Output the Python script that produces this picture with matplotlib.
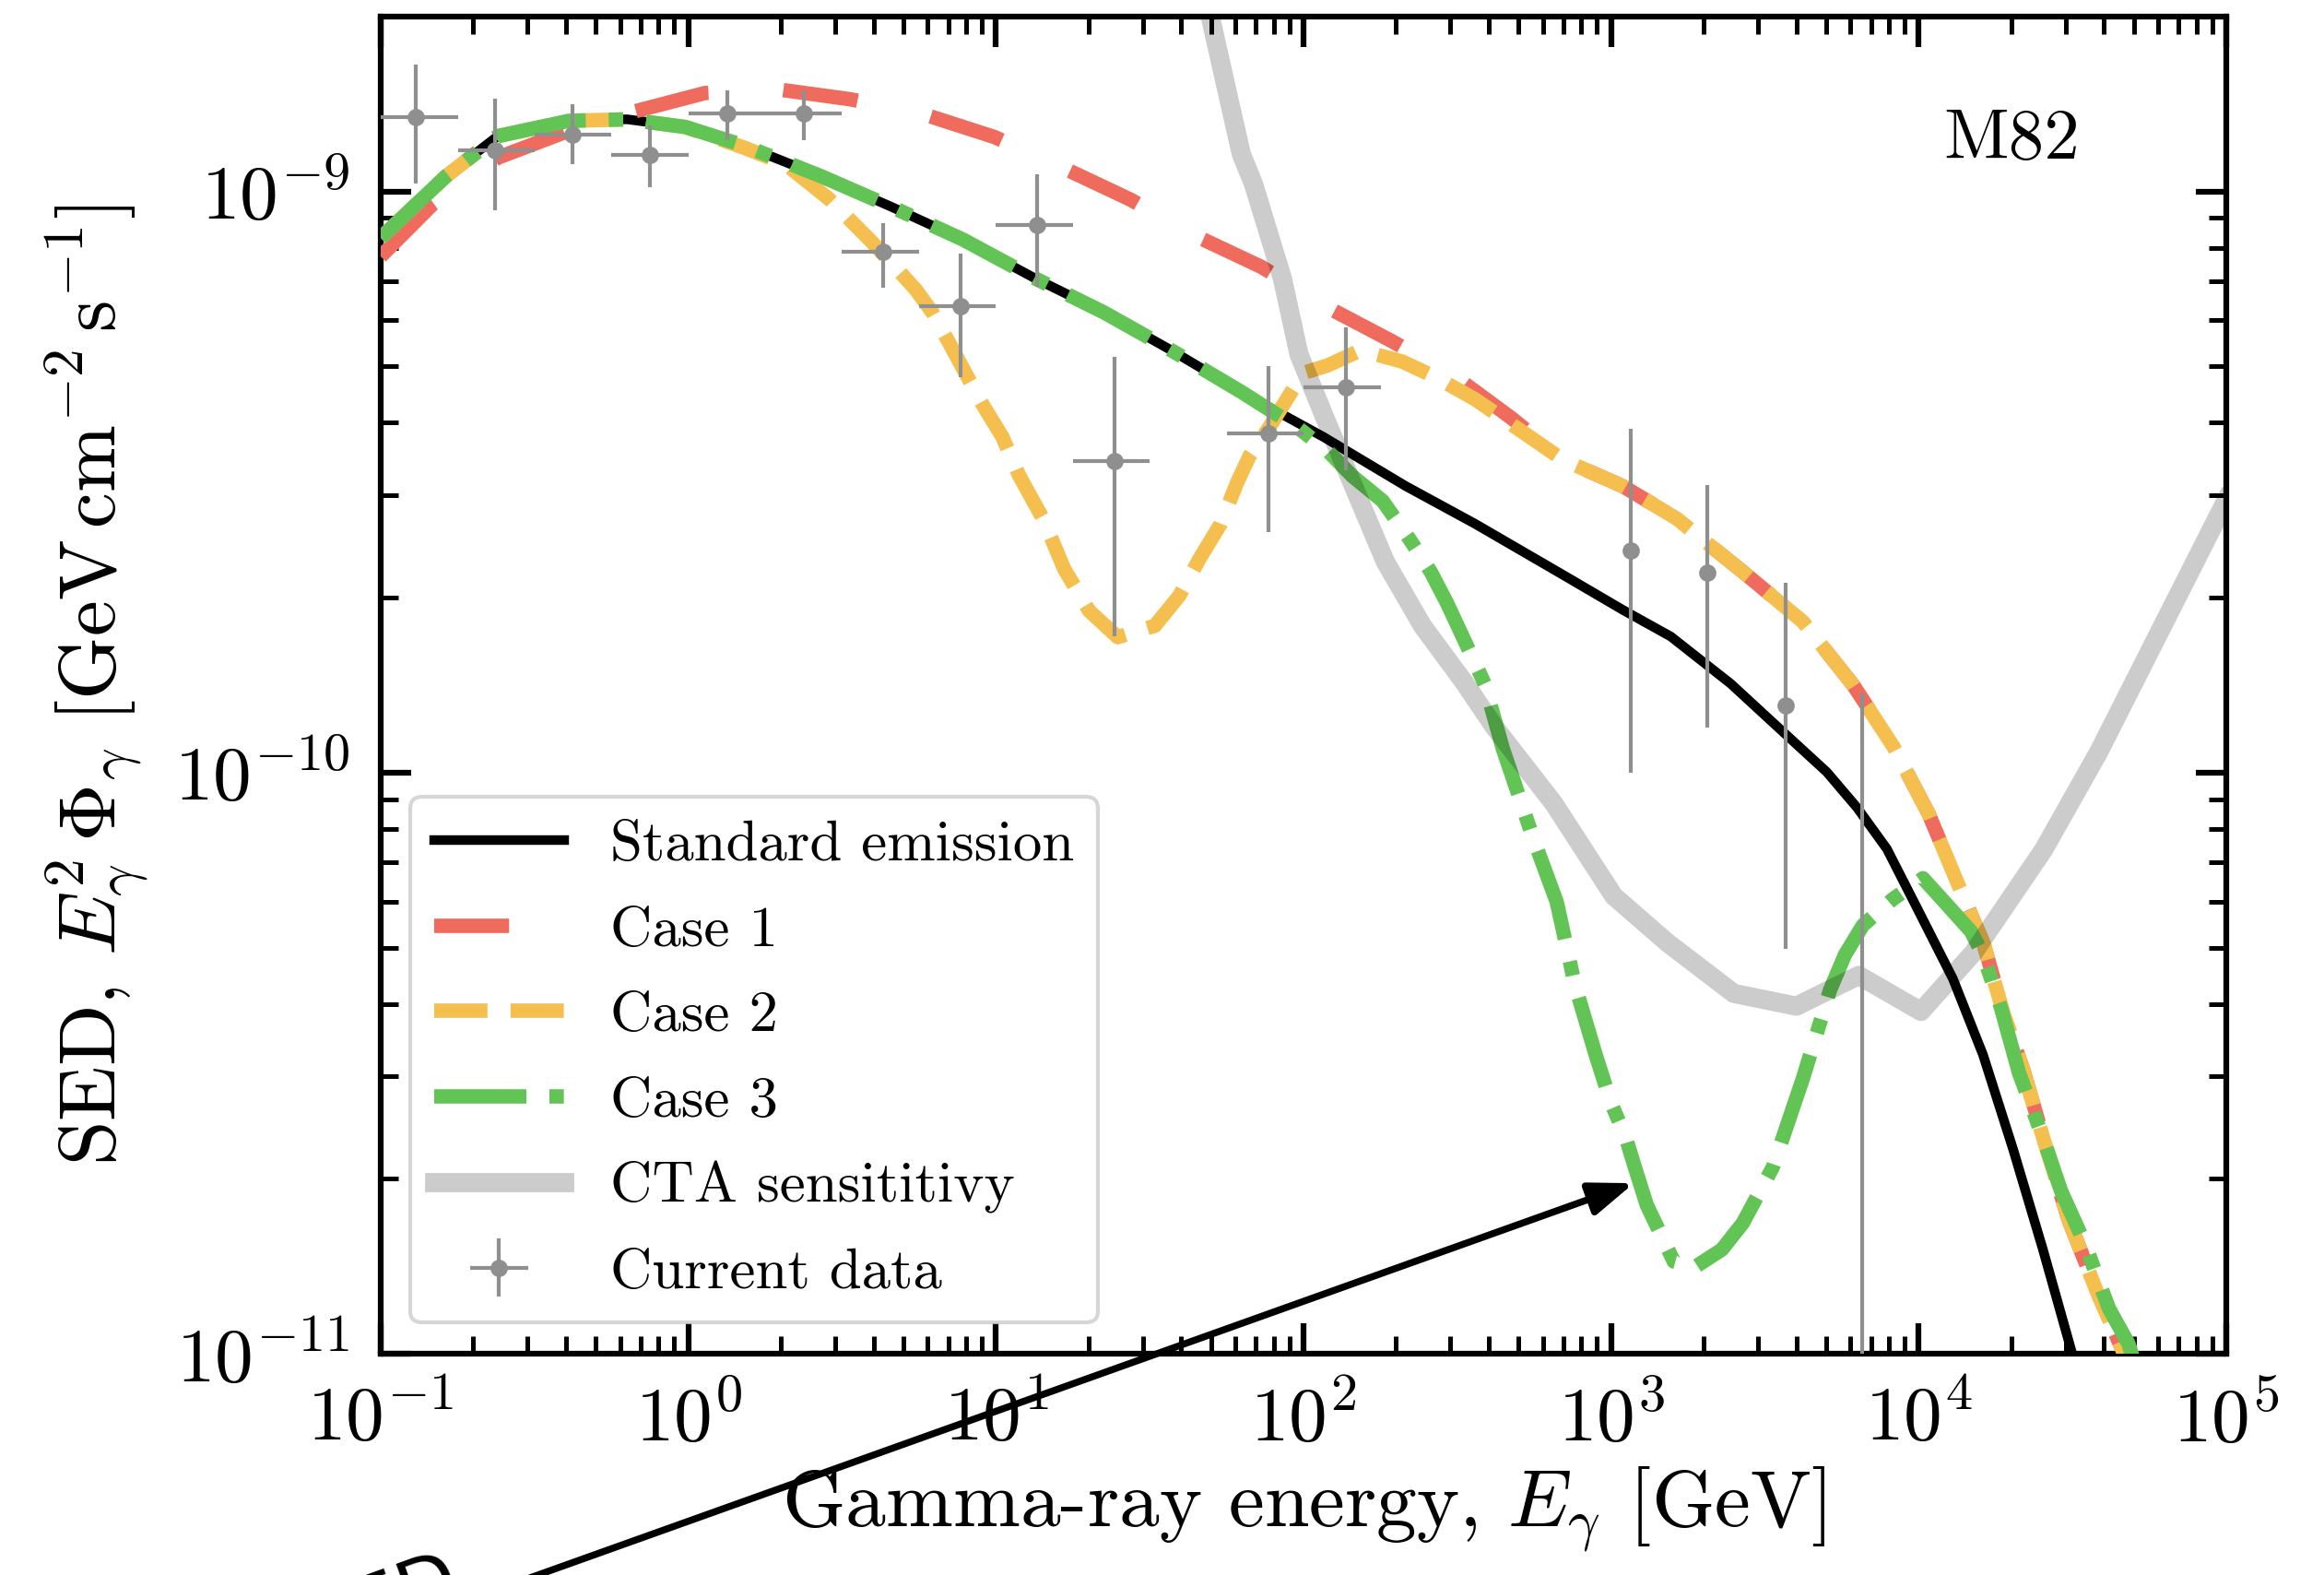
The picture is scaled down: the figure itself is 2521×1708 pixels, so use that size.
import matplotlib
matplotlib.use("Agg")
import matplotlib.pyplot as plt
import matplotlib.ticker as mticker
import numpy as np

plt.rcParams.update({
    "font.family": "serif",
    "font.serif": ["cmr10"],
    "mathtext.fontset": "cm",
    "axes.unicode_minus": False,
    "axes.formatter.use_mathtext": True,
})

# ---------------- data (GeV, GeV cm^-2 s^-1) ----------------
E_std = [0.1, 0.163, 0.240, 0.409, 0.633, 0.979, 1.514, 2.706, 4.574, 7.834, 13.45, 22.48,
         37.16, 62.77, 116.2, 215.3, 361.1, 696.5, 1092, 1564, 2448, 3509, 5025, 6295, 7878,
         9867, 12906, 16170, 20250, 25340, 31710, 36030]
sed_std = [8.32e-10, 1.062e-9, 1.245e-9, 1.323e-9, 1.331e-9, 1.291e-9, 1.200e-9, 1.062e-9,
           9.41e-10, 8.26e-10, 7.08e-10, 6.19e-10, 5.33e-10, 4.52e-10, 3.78e-10, 3.11e-10,
           2.68e-10, 2.19e-10, 1.905e-10, 1.714e-10, 1.422e-10, 1.193e-10, 1.002e-10, 8.71e-11,
           7.39e-11, 5.85e-11, 4.42e-11, 3.27e-11, 2.25e-11, 1.51e-11, 9.9e-12, 7.8e-12]

E_c1 = [0.1, 0.148, 0.240, 0.390, 0.665, 1.132, 2.023, 3.363, 5.85, 9.88, 16.42, 27.3, 44.05,
        73.2, 116.2, 193.3, 311.5, 475.4, 696.5, 1092, 1635, 2679, 4200, 6143, 8290, 10772,
        13480, 16260, 18890, 21910, 25450, 30700, 38420, 46340, 53120]
sed_c1 = [7.73e-10, 9.52e-10, 1.143e-9, 1.26e-9, 1.372e-9, 1.477e-9, 1.495e-9, 1.441e-9,
          1.357e-9, 1.241e-9, 1.10e-9, 9.69e-10, 8.41e-10, 7.41e-10, 6.37e-10, 5.53e-10,
          4.80e-10, 4.07e-10, 3.455e-10, 3.11e-10, 2.735e-10, 2.216e-10, 1.818e-10, 1.411e-10,
          1.106e-10, 8.49e-11, 6.39e-11, 5.07e-11, 3.84e-11, 3.07e-11, 2.34e-11, 1.70e-11,
          1.257e-11, 1.005e-11, 8.5e-12]

E_c2 = [0.1, 0.163, 0.240, 0.409, 0.633, 0.979, 1.514, 2.069, 2.879, 3.921, 4.714, 5.498, 6.218,
        6.827, 7.721, 9.00, 10.50, 11.88, 14.30, 16.68, 20.08, 24.89, 32.85, 39.50, 46.09, 53.78,
        60.84, 66.77, 77.91, 99.68, 119.8, 153.3, 208.7, 267.0, 361.1, 696.5, 1092, 1635, 2679,
        4200, 6143, 8290, 10772, 13480, 16260, 18890, 21910, 25450, 30700, 38420, 46340, 53120]
sed_c2 = [8.32e-10, 1.062e-9, 1.245e-9, 1.323e-9, 1.331e-9, 1.291e-9, 1.190e-9, 1.115e-9,
          9.69e-10, 8.22e-10, 7.41e-10, 6.77e-10, 6.19e-10, 5.66e-10, 5.02e-10, 4.32e-10,
          3.78e-10, 3.25e-10, 2.72e-10, 2.24e-10, 1.899e-10, 1.710e-10, 1.789e-10, 2.017e-10,
          2.342e-10, 2.679e-10, 3.156e-10, 3.506e-10, 3.95e-10, 4.87e-10, 5.02e-10, 5.33e-10,
          5.10e-10, 4.80e-10, 4.39e-10, 3.455e-10, 3.11e-10, 2.735e-10, 2.216e-10, 1.818e-10,
          1.411e-10, 1.106e-10, 8.49e-11, 6.39e-11, 5.07e-11, 3.84e-11, 3.07e-11, 2.34e-11,
          1.70e-11, 1.257e-11, 1.005e-11, 8.5e-12]

E_c3 = [0.1, 0.163, 0.240, 0.409, 0.633, 0.979, 1.514, 2.706, 4.574, 7.834, 13.45, 22.48, 37.16,
        62.77, 96.6, 119.8, 144.2, 180.8, 222.1, 259.1, 292.8, 388.0, 444.3, 556.2, 665.5, 761.9,
        891.2, 997.7, 1116, 1194, 1307, 1599, 1870, 2291, 2679, 3356, 4200, 5143, 5754, 6580,
        8243, 10316, 12350, 14780, 16170, 18510, 21170, 25340, 28990, 34690, 41530, 48070, 51370]
sed_c3 = [8.32e-10, 1.062e-9, 1.245e-9, 1.323e-9, 1.331e-9, 1.291e-9, 1.200e-9, 1.062e-9,
          9.41e-10, 8.26e-10, 7.08e-10, 6.19e-10, 5.33e-10, 4.52e-10, 3.91e-10, 3.578e-10,
          3.237e-10, 2.934e-10, 2.513e-10, 2.216e-10, 1.957e-10, 1.422e-10, 1.100e-10, 7.75e-11,
          5.99e-11, 4.32e-11, 3.265e-11, 2.708e-11, 2.354e-11, 2.094e-11, 1.80e-11, 1.441e-11,
          1.409e-11, 1.511e-11, 1.678e-11, 2.095e-11, 2.975e-11, 4.22e-11, 4.858e-11, 5.46e-11,
          6.06e-11, 6.58e-11, 5.925e-11, 5.33e-11, 4.858e-11, 3.936e-11, 3.044e-11, 2.354e-11,
          1.908e-11, 1.546e-11, 1.196e-11, 1.04e-11, 9.29e-12]

E_cta = [40.0, 56.3, 62.8, 68.8, 85.4, 96.6, 116.2, 148.8, 184.5, 243.5, 331.5, 416.3, 651.6,
         1020, 1525, 2503, 3999, 6380, 10170, 15080, 25450, 38420, 100000]
sed_cta = [3.35e-9, 1.495e-9, 1.159e-9, 1.029e-9, 7.08e-10, 5.25e-10, 4.13e-10, 3.02e-10,
           2.306e-10, 1.789e-10, 1.434e-10, 1.20e-10, 8.84e-11, 6.13e-11, 5.095e-11, 4.17e-11,
           3.963e-11, 4.476e-11, 3.882e-11, 4.904e-11, 7.365e-11, 1.084e-10, 2.947e-10]

E_fermi = [0.13, 0.235, 0.42, 0.75, 1.34, 2.38, 4.3, 7.7, 13.6, 24.3, 77.0, 137.0]
E_fermi_lo = [0.1, 0.178, 0.316, 0.562, 1.0, 1.78, 3.16, 5.62, 10.0, 17.8, 56.2, 100.0]
E_fermi_hi = [0.178, 0.316, 0.562, 1.0, 1.78, 3.16, 5.62, 10.0, 17.8, 31.6, 100.0, 178.0]
sed_fermi = [1.345e-9, 1.176e-9, 1.254e-9, 1.157e-9, 1.362e-9, 1.362e-9, 7.87e-10, 6.34e-10,
             8.76e-10, 3.43e-10, 3.84e-10, 4.61e-10]
sed_fermi_lo = [1.033e-9, 9.29e-10, 1.115e-9, 1.018e-9, 1.225e-9, 1.225e-9, 6.84e-10, 4.80e-10,
                6.85e-10, 1.714e-10, 2.59e-10, 3.315e-10]
sed_fermi_hi = [1.655e-9, 1.445e-9, 1.411e-9, 1.30e-9, 1.495e-9, 1.495e-9, 8.81e-10, 7.83e-10,
                1.07e-9, 5.19e-10, 5.0e-10, 5.83e-10]

E_iact = [1155, 2056, 3700, 6525]
sed_iact = [2.41e-10, 2.21e-10, 1.307e-10, 5.0e-12]
sed_iact_lo = [1.0e-10, 1.197e-10, 4.98e-11, 1.0e-13]
sed_iact_hi = [3.91e-10, 3.12e-10, 2.12e-10, 1.37e-10]

arrow_tip = (1185, 1.965e-11)
arrow_tail = (0.13, 3.5e-12)

# ---------------- figure ----------------
W, H, DPI = 2521, 1708, 300
fig = plt.figure(figsize=(W / DPI, H / DPI), dpi=DPI)
ax = fig.add_axes([0.1638, 0.1405, 0.7942, 0.849])

RED = "#EE6B5E"
ORANGE = "#F4BF4F"
GREEN = "#62C454"
DATA = "#8F8F8F"
LW = 3.75

l_std, = ax.plot(E_std, sed_std, color="k", lw=2.5, label="Standard emission", zorder=2)
l_c1, = ax.plot(E_c1, sed_c1, color=RED, lw=LW, ls=(0, (5.2, 5.2)), label="Case 1", zorder=3)
l_c2, = ax.plot(E_c2, sed_c2, color=ORANGE, lw=LW, ls="--", label="Case 2", zorder=4)
l_c3, = ax.plot(E_c3, sed_c3, color=GREEN, lw=LW, ls="-.", label="Case 3", zorder=5)
l_cta, = ax.plot(E_cta, sed_cta, color="k", alpha=0.2, lw=5, label="CTA sensititivy",
                 solid_joinstyle="round", zorder=6)

E_fermi_a = np.array(E_fermi)
sed_fermi_a = np.array(sed_fermi)
xerr = [E_fermi_a - np.array(E_fermi_lo), np.array(E_fermi_hi) - E_fermi_a]
yerr = [sed_fermi_a - np.array(sed_fermi_lo), np.array(sed_fermi_hi) - sed_fermi_a]
eb = ax.errorbar(E_fermi, sed_fermi, xerr=xerr, yerr=yerr, fmt="o", ms=4.5, mew=0,
                 color=DATA, ecolor=DATA, elinewidth=1.0, capsize=2.0, capthick=2.0,
                 label="Current data", zorder=7)
sed_iact_a = np.array(sed_iact)
yerr2 = [sed_iact_a - np.array(sed_iact_lo), np.array(sed_iact_hi) - sed_iact_a]
ax.errorbar(E_iact, sed_iact, yerr=yerr2, fmt="o", ms=4.5, mew=0, color=DATA, ecolor=DATA,
            elinewidth=1.0, capsize=2.0, capthick=2.0, zorder=7)

ax.set_xscale("log")
ax.set_yscale("log")
ax.set_xlim(0.1, 1e5)
ax.set_ylim(1e-11, 2e-9)

ax.xaxis.set_major_locator(mticker.LogLocator(base=10, numticks=20))
ax.xaxis.set_minor_locator(mticker.LogLocator(base=10, subs=np.arange(2, 10), numticks=50))
ax.yaxis.set_major_locator(mticker.LogLocator(base=10, numticks=20))
ax.yaxis.set_minor_locator(mticker.LogLocator(base=10, subs=np.arange(2, 10), numticks=50))
ax.xaxis.set_minor_formatter(mticker.NullFormatter())
ax.yaxis.set_minor_formatter(mticker.NullFormatter())

for s in ax.spines.values():
    s.set_linewidth(1.5)
ax.tick_params(which="both", direction="in", top=True, right=True)
ax.tick_params(which="major", length=8, width=1.5, labelsize=20, pad=8)
ax.tick_params(which="minor", length=4.5, width=1.2)

ax.set_xlabel(r"Gamma-ray energy, $E_\gamma$ [GeV]", fontsize=21, labelpad=2)
ax.set_ylabel(r"SED, $E_\gamma^2\,\Phi_\gamma\ [\mathrm{GeV\,cm^{-2}\,s^{-1}}]$",
              fontsize=21, labelpad=6)

ax.text(0.8836, 0.907, "M82", transform=ax.transAxes, ha="center", va="center",
        fontsize=18.5)

leg = ax.legend(handles=[l_std, l_c1, l_c2, l_c3, l_cta, eb], loc="lower left",
                bbox_to_anchor=(0.0162, 0.0234), borderaxespad=0, fontsize=15.1,
                handlelength=2.25, labelspacing=0.58)

ax.annotate("", xy=arrow_tip, xytext=arrow_tail, xycoords="data", textcoords="data",
            arrowprops=dict(arrowstyle="-|>,head_length=0.4,head_width=0.15", color="k",
                            lw=1.8, mutation_scale=24, shrinkA=0, shrinkB=0),
            annotation_clip=False, zorder=8)
fig.text(344 / W, 1 - 1790 / H, "SED", rotation=20, rotation_mode="anchor", ha="left",
         va="baseline", fontsize=20, family="DejaVu Sans")

fig.savefig("out.png", dpi=DPI)
